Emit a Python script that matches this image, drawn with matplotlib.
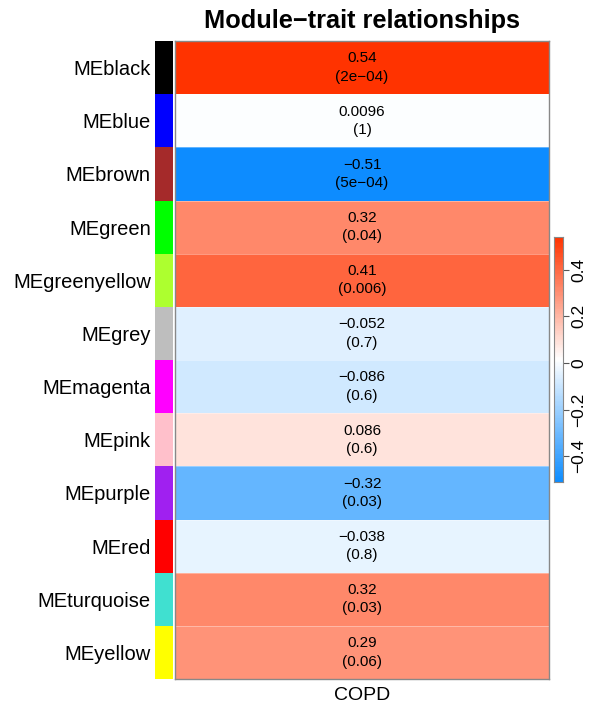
import numpy as np
import matplotlib
matplotlib.use("Agg")
import matplotlib.pyplot as plt
from matplotlib.colors import LinearSegmentedColormap, Normalize, ListedColormap

plt.rcParams['font.family'] = ['Liberation Sans', 'DejaVu Sans']

modules = ["MEblack", "MEblue", "MEbrown", "MEgreen", "MEgreenyellow", "MEgrey",
           "MEmagenta", "MEpink", "MEpurple", "MEred", "MEturquoise", "MEyellow"]
module_colors = ["black", "blue", "brown", "#00FF00", "greenyellow", "#BEBEBE",
                 "magenta", "pink", "#A020F0", "red", "turquoise", "yellow"]
trait = "COPD"
cor = [0.54, 0.0096, -0.51, 0.32, 0.41, -0.052, -0.086, 0.086, -0.32, -0.038, 0.32, 0.29]
pval_text = ["2e−04", "1", "5e−04", "0.04", "0.006", "0.7", "0.6", "0.6", "0.03", "0.8", "0.03", "0.06"]
cor_text = ["0.54", "0.0096", "−0.51", "0.32", "0.41", "−0.052", "−0.086", "0.086",
            "−0.32", "−0.038", "0.32", "0.29"]
cbar_ticks = [-0.4, -0.2, 0, 0.2, 0.4]
cbar_ticklabels = ["−0.4", "−0.2", "0", "0.2", "0.4"]

# blue-white-red ramp spanning the data range
cmap = LinearSegmentedColormap.from_list(
    "bwr_wgcna", [(0.05, 0.55, 1.0), (1, 1, 1), (1.0, 0.2, 0.0)], N=256)
zmin, zmax = min(cor), max(cor)
norm = Normalize(vmin=zmin, vmax=zmax)

fig = plt.figure(figsize=(5.89, 7.07), dpi=100)
W, H = 589, 707

def fax(x0, y0, x1, y1):
    return fig.add_axes([x0 / W, 1 - y1 / H, (x1 - x0) / W, (y1 - y0) / H])

n = len(modules)
data = np.array(cor).reshape(n, 1)

# heatmap
ax = fax(175, 41, 549, 679)
ax.pcolormesh(np.arange(2), np.arange(n + 1), data, cmap=cmap, norm=norm,
              edgecolor=(1, 1, 1, 0.35), linewidth=0.6)
ax.set_xlim(0, 1)
ax.set_ylim(n, 0)
ax.set_xticks([])
ax.set_yticks([])
for s in ax.spines.values():
    s.set_color("#888888")
    s.set_linewidth(1.0)
for i in range(n):
    ax.text(0.5, i + 0.5, f"{cor_text[i]}\n({pval_text[i]})", ha="center", va="center",
            fontsize=11, linespacing=1.4, color="black")
fig.text(362 / W, 1 - 696 / H, trait, ha="center", va="center", fontsize=14)

# module colour strip
axc = fax(155, 41, 173, 679)
axc.pcolormesh(np.arange(2), np.arange(n + 1), np.arange(n).reshape(n, 1),
               cmap=ListedColormap(module_colors), norm=Normalize(-0.5, n - 0.5))
axc.set_xlim(0, 1)
axc.set_ylim(n, 0)
axc.set_xticks([])
axc.set_yticks(np.arange(n) + 0.5)
axc.set_yticklabels(modules, fontsize=14.5)
axc.tick_params(axis='y', length=0, pad=3)
for s in axc.spines.values():
    s.set_visible(False)

# colour bar
axb = fax(554, 237, 563, 482)
edges = np.linspace(zmin, zmax, 201)
axb.pcolormesh([0, 1], edges, ((edges[:-1] + edges[1:]) / 2).reshape(-1, 1),
               cmap=cmap, norm=norm)
axb.set_ylim(zmin, zmax)
axb.set_xlim(0, 1)
axb.set_xticks([])
axb.yaxis.tick_right()
axb.set_yticks(cbar_ticks)
axb.set_yticklabels(cbar_ticklabels, rotation=90, va="center", fontsize=12.5)
axb.tick_params(axis='y', length=4, width=0.8, color="#555555", pad=2)
for s in axb.spines.values():
    s.set_color("#888888")
    s.set_linewidth(0.8)

fig.text(362 / W, 1 - 21 / H, "Module−trait relationships", ha="center", va="center",
         fontsize=18.3, fontweight="bold")

fig.savefig("out.png", dpi=100)
